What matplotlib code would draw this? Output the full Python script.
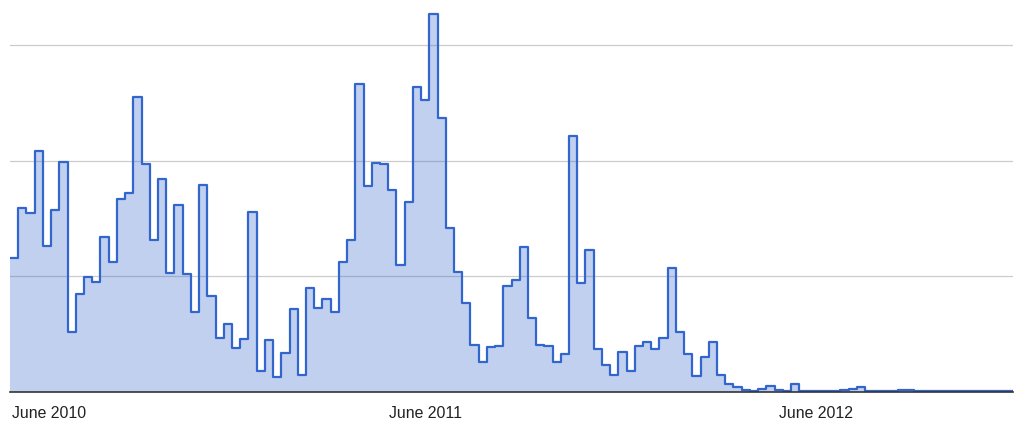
import numpy as np
import matplotlib.pyplot as plt

# weekly-ish counts (one value per step)
values = [
    11.6, 15.9, 15.5, 20.8, 12.6, 15.7, 19.9, 5.2, 8.5, 9.9,
    9.5, 13.4, 11.2, 16.7, 17.2, 25.5, 19.7, 13.1, 18.4, 10.3,
    16.2, 10.2, 6.9, 17.9, 8.3, 4.7, 5.9, 3.8, 4.6, 15.6,
    1.8, 4.5, 1.3, 3.4, 7.2, 1.5, 9.0, 7.3, 8.0, 6.9,
    11.2, 13.1, 26.6, 17.8, 19.8, 19.7, 17.5, 11.0, 16.4, 26.4,
    25.2, 32.7, 23.7, 14.2, 10.4, 7.7, 4.1, 2.6, 3.9, 4.0,
    9.2, 9.7, 12.5, 6.4, 4.1, 4.0, 2.6, 3.3, 22.1, 9.4,
    12.3, 3.7, 2.3, 1.5, 3.5, 1.8, 4.0, 4.3, 3.7, 4.7,
    10.7, 5.2, 3.3, 1.4, 3.0, 4.3, 1.5, 0.7, 0.4, 0.2,
    0.1, 0.3, 0.5, 0.2, 0.1, 0.65, 0.1, 0.1, 0.1, 0.1,
    0.1, 0.15, 0.3, 0.4, 0.1, 0.05, 0.05, 0.05, 0.15, 0.15,
    0.05, 0.05, 0.05, 0.05, 0.1, 0.05, 0.05, 0.05, 0.05, 0.05,
    0.05, 0.05,
]
tick_pos = [0.25, 50.6, 98.05]
tick_labels = ["June 2010", "June 2011", "June 2012"]

n = len(values)
edges = np.arange(n + 1)
y = np.append(values, values[-1])

fig = plt.figure(figsize=(10.22, 4.27), dpi=100)
ax = fig.add_axes([10 / 1022, 34 / 427, 1003 / 1022, 393 / 427])

ax.fill_between(edges, y, step="post", color="#3366cc", alpha=0.3, lw=0, zorder=2)
ax.step(edges, y, where="post", color="#3366cc", lw=1.6, zorder=3)

ax.set_xlim(0, n)
ax.set_ylim(0, 33.97)
ax.set_yticks([10, 20, 30])
ax.yaxis.grid(True, color="#cccccc", lw=0.9)
ax.set_axisbelow(True)
ax.tick_params(axis="y", left=False, labelleft=False)

ax.set_xticks(tick_pos)
ax.set_xticklabels(tick_labels, fontsize=11.4, color="#222222", family="Liberation Sans")
ax.tick_params(axis="x", length=0, pad=9.5)
ax.get_xticklabels()[0].set_horizontalalignment("left")

for s in ["top", "left", "right"]:
    ax.spines[s].set_visible(False)
ax.spines["bottom"].set_color("#333333")
ax.spines["bottom"].set_linewidth(1.2)
ax.spines["bottom"].set_zorder(4)

fig.savefig("out.png", dpi=100)
